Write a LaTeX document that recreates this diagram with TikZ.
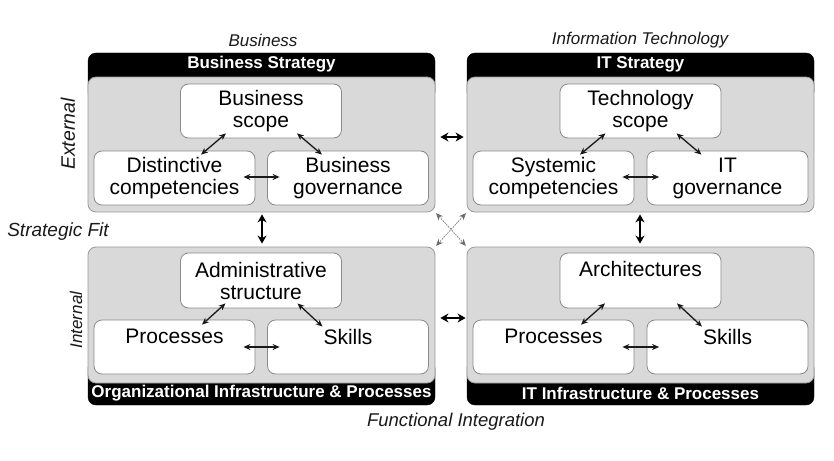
\documentclass[tikz,border=0pt]{standalone}
\usepackage{fontspec}
\setmainfont{Liberation Sans}
\usetikzlibrary{calc,arrows.meta}
\definecolor{panelgray}{HTML}{D9D9D9}
\definecolor{panelborder}{HTML}{9A9A9A}
\definecolor{boxborder}{HTML}{8A8A8A}
\definecolor{inkc}{HTML}{1A1A1A}
\begin{document}
\begin{tikzpicture}[x=1pt,y=-1pt,
  hdrbox/.style={fill=black,draw=black,rounded corners=8pt,minimum width=347pt,inner sep=0pt},
  hdrtext/.style={text=white,font=\fontsize{17}{18}\selectfont\bfseries,inner sep=0pt},
  panel/.style={fill=panelgray,draw=panelborder,line width=0.8pt,rounded corners=8pt,minimum width=347pt,inner sep=0pt},
  ibox/.style={fill=white,draw=boxborder,line width=0.8pt,rounded corners=8pt,minimum width=161pt,minimum height=54pt,inner sep=0pt,align=center,font=\fontsize{21}{22}\selectfont},
  btext/.style={inner sep=0pt,font=\fontsize{21}{22}\selectfont,align=center},
  lbl/.style={inner sep=0pt,font=\fontsize{17}{19}\selectfont\itshape,text=inkc},
  smallarrow/.style={inkc,line width=1.3pt,{Stealth[length=7pt,width=6pt]}-{Stealth[length=7pt,width=6pt]}},
  bigarrow/.style={black,line width=2.6pt,{Stealth[length=8pt,width=9pt]}-{Stealth[length=8pt,width=9pt]}},
  crossarrow/.style={gray!85!black,line width=0.7pt,dash pattern=on 1.5pt off 1.2pt,{Stealth[length=7pt,width=6pt]}-{Stealth[length=7pt,width=6pt]}}
]
\useasboundingbox[fill=white] (0,0) rectangle (834,460);

% ---------- top-left panel ----------
\node[hdrbox,minimum height=47pt] (tlh) at (261.5,76.5) {};
\node[panel,minimum height=135pt] (tl) at (261.5,144.5) {};
\node[hdrtext] (tlht) at (261.5,64) {Business Strategy};
\node[ibox] (bscope) at (261,111) {Business\\scope};
\node[ibox] (dist) at (174.5,178) {Distinctive\\competencies};
\node[ibox] (bgov) at (348,178) {Business\\governance};

% ---------- top-right panel ----------
\node[hdrbox,minimum height=47pt] (trh) at (640.5,76.5) {};
\node[panel,minimum height=135pt] (tr) at (640.5,144.5) {};
\node[hdrtext] (trht) at (640.5,64) {IT Strategy};
\node[ibox] (tscope) at (640.5,111) {Technology\\scope};
\node[ibox] (sys) at (553.5,178) {Systemic\\competencies};
\node[ibox] (itgov) at (727.5,178) {IT\\governance};

% ---------- bottom-left panel ----------
\node[hdrbox,minimum height=45pt] (blh) at (261.5,382.5) {};
\node[panel,minimum height=136pt] (bl) at (261.5,315) {};
\node[hdrtext] (blht) at (261.5,393) {Organizational Infrastructure \& Processes};
\node[ibox,minimum height=55pt] (admin) at (261,280.5) {Administrative\\structure};
\node[ibox] (proc) at (174.5,347) {};
\node[ibox] (skills) at (348,347) {};
\node[btext] (proct) at ($(proc.north)+(0,17)$) {Processes};
\node[btext] (skillst) at ($(skills.north)+(0,17)$) {Skills};

% ---------- bottom-right panel ----------
\node[hdrbox,minimum height=45pt] (brh) at (640.5,382.5) {};
\node[panel,minimum height=136pt] (br) at (640.5,315) {};
\node[hdrtext] (brht) at (640.5,393) {IT Infrastructure \& Processes};
\node[ibox,minimum height=55pt] (arch) at (640.5,280.5) {};
\node[btext] (archt) at ($(arch.north)+(0,16)$) {Architectures};
\node[ibox] (proc2) at (553.5,347) {};
\node[ibox] (skills2) at (727.5,347) {};
\node[btext] (proc2t) at ($(proc2.north)+(0,17)$) {Processes};
\node[btext] (skills2t) at ($(skills2.north)+(0,17)$) {Skills};

% ---------- inner arrows ----------
\draw[smallarrow] ($(bscope.south)+(-35,-5)$) -- ($(dist.north)+(26.5,4)$);
\draw[smallarrow] ($(bscope.south)+(36,-5)$) -- ($(bgov.north)+(-26,4)$);
\draw[smallarrow] ($(dist.east)+(-12,-1)$) -- ($(bgov.west)+(12.5,-1)$);

\draw[smallarrow] ($(tscope.south)+(-35,-5)$) -- ($(sys.north)+(26.5,4)$);
\draw[smallarrow] ($(tscope.south)+(36,-5)$) -- ($(itgov.north)+(-26,4)$);
\draw[smallarrow] ($(sys.east)+(-12,-1)$) -- ($(itgov.west)+(12.5,-1)$);

\draw[smallarrow] ($(admin.south)+(-35.5,-5)$) -- ($(proc.north)+(27.5,5)$);
\draw[smallarrow] ($(admin.south)+(36.5,-5)$) -- ($(skills.north)+(-25.5,7)$);
\draw[smallarrow] ($(proc.east)+(-12,0)$) -- ($(skills.west)+(12.5,0)$);

\draw[smallarrow] ($(arch.south)+(-35.5,-5)$) -- ($(proc2.north)+(27.5,5)$);
\draw[smallarrow] ($(arch.south)+(36.5,-5)$) -- ($(skills2.north)+(-25.5,7)$);
\draw[smallarrow] ($(proc2.east)+(-12,0)$) -- ($(skills2.west)+(12.5,0)$);

% ---------- arrows between panels ----------
\draw[bigarrow,shorten <=5pt,shorten >=3pt] (tl.east |- 0,137) -- (tr.west |- 0,137);
\draw[bigarrow,shorten <=5pt,shorten >=1pt] (bl.east |- 0,318) -- (br.west |- 0,318);
\draw[bigarrow,shorten <=2pt,shorten >=3pt] (tl.south -| 262,0) -- (bl.north -| 262,0);
\draw[bigarrow,shorten <=2pt,shorten >=3pt] (tr.south -| 640,0) -- (br.north -| 640,0);
\draw[crossarrow,shorten <=1pt,shorten >=1pt] (tl.south east) -- (br.north west);
\draw[crossarrow,shorten <=1pt,shorten >=1pt] (tr.south west) -- (bl.north east);

% ---------- side labels ----------
\node[lbl] (business) at (263,40) {Business};
\node[lbl] (infotech) at (640,40) {Information Technology};
\node[lbl,font=\fontsize{19.5}{21}\selectfont\itshape,rotate=90] (external) at (68,134) {External};
\node[lbl,rotate=90] (internal) at (76,320) {Internal};
\node[lbl,font=\fontsize{19}{21}\selectfont\itshape] (strategic) at (58,232) {Strategic Fit};
\node[lbl,font=\fontsize{18.5}{21}\selectfont\itshape] (functional) at (456,422) {Functional Integration};
\end{tikzpicture}
\end{document}
